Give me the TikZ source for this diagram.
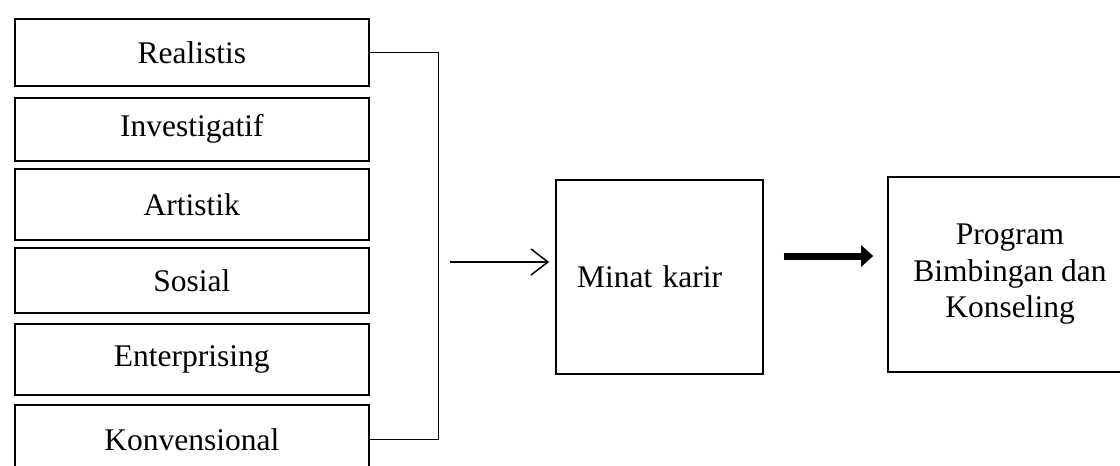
\documentclass[tikz,border=0pt]{standalone}
\usepackage{fontspec}
\setmainfont{Liberation Serif}
\usetikzlibrary{arrows.meta}
\begin{document}
\begin{tikzpicture}[x=1pt, y=-1pt,
  every node/.style={font=\fontsize{31.5}{36.5}\selectfont},
  typebox/.style={draw, line width=1.6pt, minimum width=354pt, inner sep=0pt, anchor=north west},
  bigbox/.style={draw, line width=1.6pt, inner sep=0pt},
  link/.style={line width=0.9pt},
  thinarrow/.style={line width=1.5pt, -{Straight Barb[length=17pt, width=26pt, line width=1.5pt]}},
  fatarrow/.style={line width=7pt, -{Triangle[length=12pt, width=21pt]}}
]
\clip (0,0) rectangle (1120,466);
\useasboundingbox (0,0) rectangle (1120,466);

% Holland personality types
\node[typebox, minimum height=67pt] (b1) at (14,18)  {Realistis};
\node[typebox, minimum height=63pt] (b2) at (14,97)  {Investigatif};
\node[typebox, minimum height=71pt] (b3) at (14,168) {Artistik};
\node[typebox, minimum height=65pt] (b4) at (14,247) {Sosial};
\node[typebox, minimum height=71pt] (b5) at (14,323) {Enterprising};
\node[typebox, minimum height=70pt] (b6) at (14,404) {Konvensional};

% Career interest
\node[bigbox, minimum width=207pt, minimum height=194pt,
      text width=165pt, align=left, inner xsep=21pt] (minat) at (659.5,277) {Minat karir};

% Guidance programme
\node[bigbox, minimum width=244pt, minimum height=195pt, align=center] (prog) at (1010,274.5)
  {Program\\Bimbingan dan\\Konseling};

% Bracket joining the types
\draw[link] (b1.east) -- ++(69,0) |- (b6.east);
\coordinate (join) at (437,262);

% Arrows
\draw[thinarrow, shorten <=13pt, shorten >=6pt] (join) -- (join -| minat.west);
\draw[fatarrow, shorten <=20pt, shorten >=14pt]
  ([yshift=21pt]minat.east) -- ([yshift=21pt]minat.east -| prog.west);
\end{tikzpicture}
\end{document}
